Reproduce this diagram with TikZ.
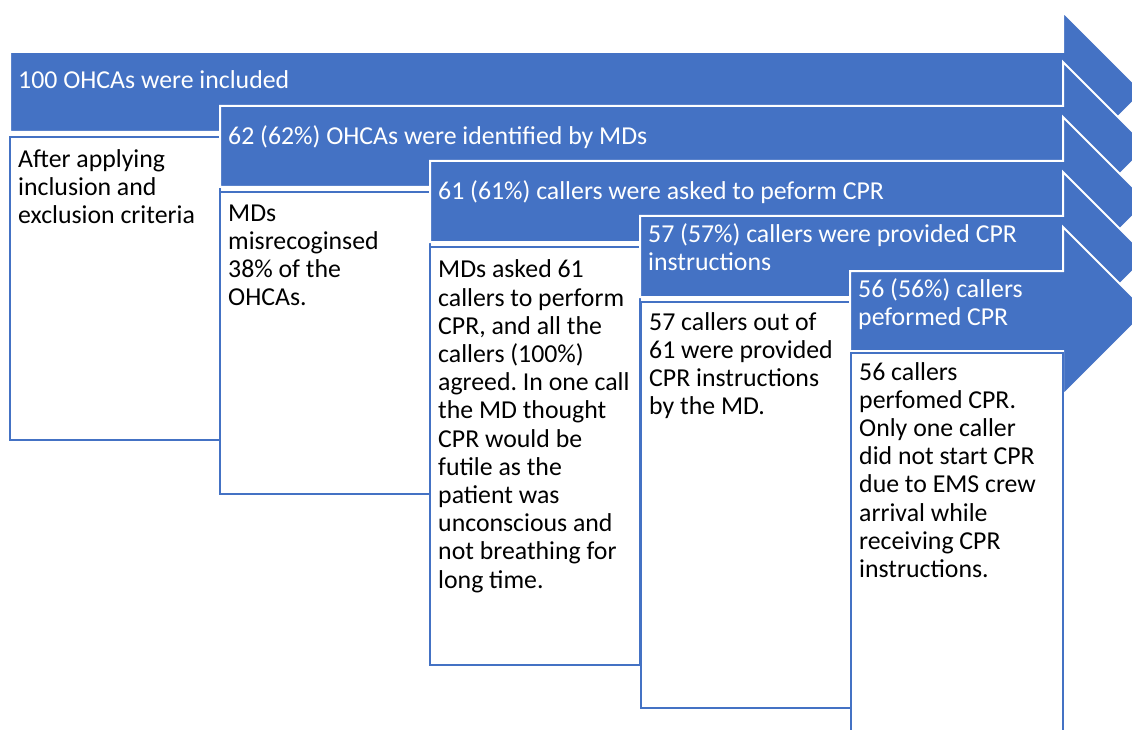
\documentclass[tikz,border=0pt]{standalone}
\usepackage{fontspec}
\setmainfont{Carlito}
\definecolor{obl}{HTML}{4472C4}
\frenchspacing
\begin{document}
\begin{tikzpicture}[x=1pt,y=-1pt,
  arrowshape/.style={fill=obl,draw=white,line width=2pt,line join=miter},
  boxshape/.style={fill=white,draw=obl,line width=2pt},
  atext/.style={anchor=base west,inner sep=0pt,align=left,text=white,font=\fontsize{25.8}{28.2}\selectfont},
  btext/.style={anchor=base west,inner sep=0pt,align=left,text=black,font=\fontsize{25.8}{28.2}\selectfont}]
\useasboundingbox (0,0) rectangle (1132,730);
\clip (0,0) rectangle (1132,730);
% arrow 1
\draw[arrowshape] (10,52) -- (1063,52) -- (1063,12) -- (1143,92) -- (1063,172) -- (1063,132) -- (10,132) -- cycle;
\draw[boxshape] (10,137) rectangle (220,440);
% arrow 2
\draw[arrowshape] (220,106) -- (1063,106) -- (1063,62) -- (1147.5,146.5) -- (1063,231) -- (1063,187) -- (220,187) -- cycle;
\draw[boxshape] (220,192) rectangle (430,494);
% arrow 3
\draw[arrowshape] (430,161) -- (1063,161) -- (1063,117) -- (1147.5,201.5) -- (1063,286) -- (1063,242) -- (430,242) -- cycle;
\draw[boxshape] (430,247) rectangle (640,665);
% arrow 4
\draw[arrowshape] (640,216) -- (1063,216) -- (1063,172) -- (1147.5,256.5) -- (1063,341) -- (1063,297) -- (640,297) -- cycle;
\draw[boxshape] (641,302) rectangle (851,708);
% arrow 5
\draw[arrowshape] (850,271) -- (1063,271) -- (1063,227) -- (1147,311) -- (1063,395) -- (1063,351) -- (850,351) -- cycle;
\draw[boxshape] (851,353) rectangle (1063,745);
% texts (anchored at the baseline of the last line)
\node[atext] (a1) at (18,89) {100 OHCAs were included};
\node[atext] (a2) at (228,145) {62 (62\%) OHCAs were identified by MDs};
\node[atext] (a3) at (438,200) {61 (61\%) callers were asked to peform CPR};
\node[atext] (a4) at (648,270.2) {57 (57\%) callers were provided CPR\\instructions};
\node[atext] (a5) at (858,325.2) {56 (56\%) callers\\peformed CPR};
\node[btext] (b1) at (18,223.4) {After applying\\inclusion and\\exclusion criteria};
\node[btext] (b2) at (228,305.6) {MDs\\misrecoginsed\\38\% of the\\OHCAs.};
\node[btext] (b3) at (438,588) {MDs asked 61\\callers to perform\\CPR, and all the\\callers (100\%)\\agreed. In one call\\the MD thought\\CPR would be\\futile as the\\patient was\\unconscious and\\not breathing for\\long time.};
\node[btext] (b4) at (649,414.6) {57 callers out of\\61 were provided\\CPR instructions\\by the MD.};
\node[btext] (b5) at (859,577.5) {56 callers\\perfomed CPR.\\Only one caller\\did not start CPR\\due to EMS crew\\arrival while\\receiving CPR\\instructions.};
\end{tikzpicture}
\end{document}
